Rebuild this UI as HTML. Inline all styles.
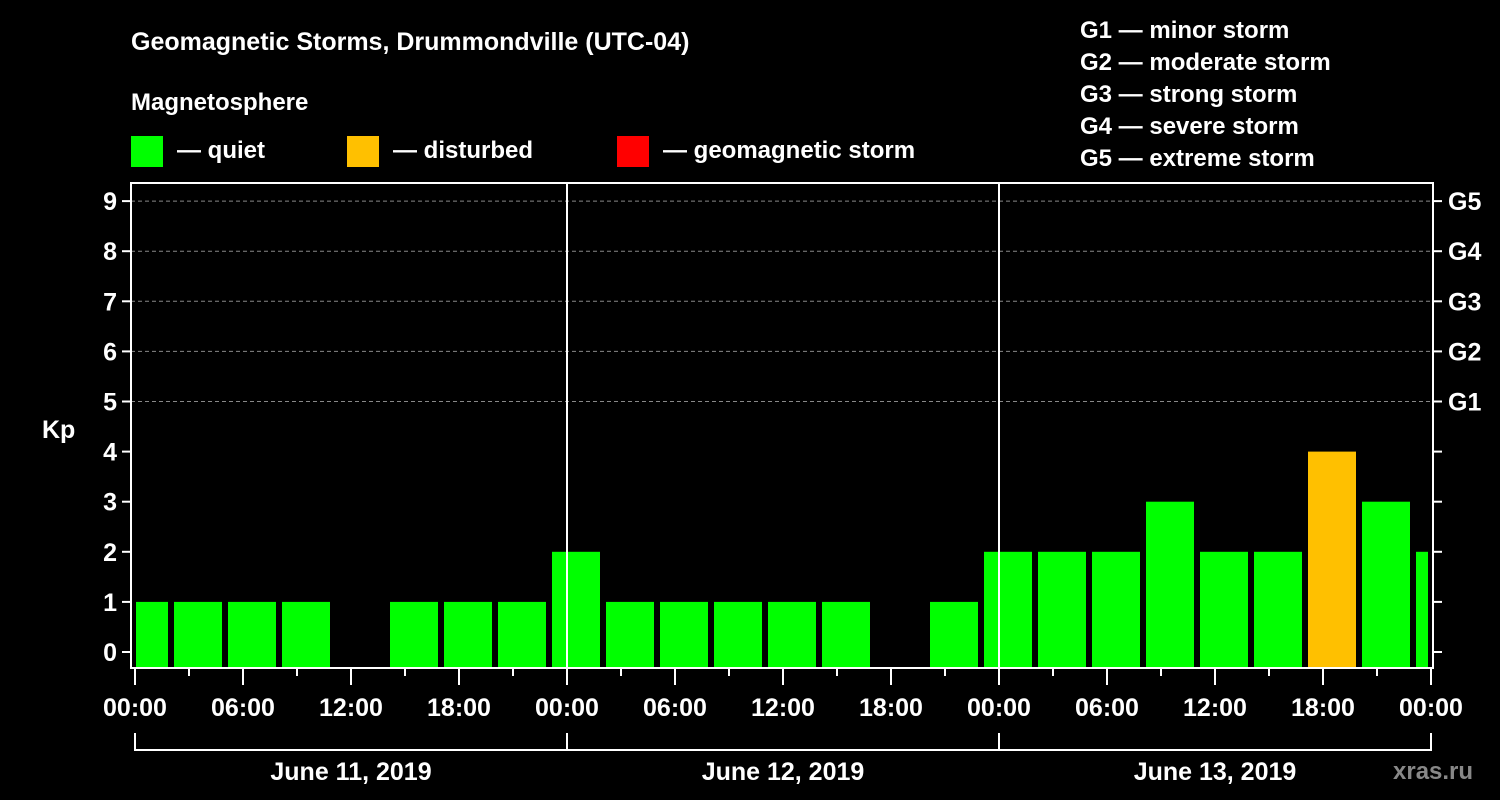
<!DOCTYPE html>
<html><head><meta charset="utf-8"><style>
body{margin:0;background:#000;width:1500px;height:800px;overflow:hidden}
svg{display:block}
text{font-family:"Liberation Sans",sans-serif;font-weight:bold;fill:#fff}
</style></head><body>
<svg id="c" width="1500" height="800" xmlns="http://www.w3.org/2000/svg">
<rect width="1500" height="800" fill="#000"/>
<text x="131" y="50" font-size="25">Geomagnetic Storms, Drummondville (UTC-04)</text>
<text x="131" y="110" font-size="24">Magnetosphere</text>
<g><rect x="131" y="136" width="32" height="31" fill="#00ff00"/><text x="177" y="158" font-size="24">— quiet</text></g>
<g><rect x="347" y="136" width="32" height="31" fill="#ffc000"/><text x="393" y="158" font-size="24">— disturbed</text></g>
<g><rect x="617" y="136" width="32" height="31" fill="#ff0000"/><text x="663" y="158" font-size="24">— geomagnetic storm</text></g>
<g font-size="24">
<text x="1080" y="38">G1 — minor storm</text>
<text x="1080" y="70">G2 — moderate storm</text>
<text x="1080" y="102">G3 — strong storm</text>
<text x="1080" y="134">G4 — severe storm</text>
<text x="1080" y="166">G5 — extreme storm</text>
</g>
<text x="42" y="438" font-size="25">Kp</text>
<text x="1393" y="779" font-size="24" style="fill:#888">xras.ru</text>
<g id="grid"></g><g id="bars"></g><g id="axes"></g>
</svg>
<script>
const kpValues=[1,1,1,1,null,1,1,1,2,1,1,1,1,1,null,1,2,2,2,3,2,2,4,3,2];
const startHour=-1; // first bar start, local hours from June 11 00:00
const stepHours=3;
const dayLabels=["June 11, 2019","June 12, 2019","June 13, 2019"];
const timeLabels=["00:00","06:00","12:00","18:00"];
const gLabels=["G1","G2","G3","G4","G5"];
const NS="http://www.w3.org/2000/svg";
const X0=135,PXH=18,XL=131,XR=1433,YT=183,YB=668;
const xs=h=>X0+h*PXH;
const ys=v=>652-v*50.1;
function mk(tag,at,parent,txt){const e=document.createElementNS(NS,tag);for(const k in at)e.setAttribute(k,at[k]);if(txt!==undefined)e.textContent=txt;document.getElementById(parent).appendChild(e);return e;}
// grid
for(let v=5;v<=9;v++){const l=mk('line',{x1:XL,x2:XR,y1:ys(v),y2:ys(v),stroke:'#888','stroke-width':1,'stroke-dasharray':'4 3'},'grid');

}
// bars
kpValues.forEach((v,i)=>{if(v===null)return;
let a=xs(startHour+i*stepHours)+3,b=xs(startHour+(i+1)*stepHours)-3;
a=Math.max(a,XL+5);b=Math.min(b,XR-5);
const col=v>=5?'#ff0000':(v>=4?'#ffc000':'#00ff00');
const r=mk('rect',{x:a,y:ys(v),width:b-a,height:YB-ys(v),fill:col},'bars');

});
// axes frame
const f=mk('rect',{x:XL,y:YT,width:XR-XL,height:YB-YT,fill:'none',stroke:'#fff','stroke-width':2},'axes');


for(let d=1;d<3;d++){const l=mk('line',{x1:xs(24*d),x2:xs(24*d),y1:YT,y2:YB,stroke:'#fff','stroke-width':2},'axes');

}
for(let v=0;v<=9;v++){
mk('line',{x1:XL-9,x2:XL,y1:ys(v),y2:ys(v),stroke:'#fff','stroke-width':2},'axes');
mk('line',{x1:XR,x2:XR+9,y1:ys(v),y2:ys(v),stroke:'#fff','stroke-width':2},'axes');
const t=mk('text',{x:XL-14,y:ys(v)+9,'font-size':25,'text-anchor':'end'},'axes',String(v));


if(v>=5){const g=mk('text',{x:1448,y:ys(v)+9,'font-size':25},'axes',gLabels[v-5]);

}}
for(let h=0;h<=72;h+=3){const big=h%6===0;
mk('line',{x1:xs(h),x2:xs(h),y1:YB,y2:YB+(big?17:8),stroke:'#fff','stroke-width':2},'axes');
if(big){const t=mk('text',{x:xs(h),y:716,'font-size':25,'text-anchor':'middle'},'axes',timeLabels[(h/6)%4]);

}}
const br=mk('path',{d:`M${xs(0)} 733V750H${xs(72)}V733`,fill:'none',stroke:'#fff','stroke-width':2},'axes');


for(let d=0;d<3;d++){
if(d>0)mk('line',{x1:xs(24*d),x2:xs(24*d),y1:733,y2:750,stroke:'#fff','stroke-width':2},'axes');
const t=mk('text',{x:xs(24*d+12),y:780,'font-size':25,'text-anchor':'middle'},'axes',dayLabels[d]);

}
</script>
</body></html>
